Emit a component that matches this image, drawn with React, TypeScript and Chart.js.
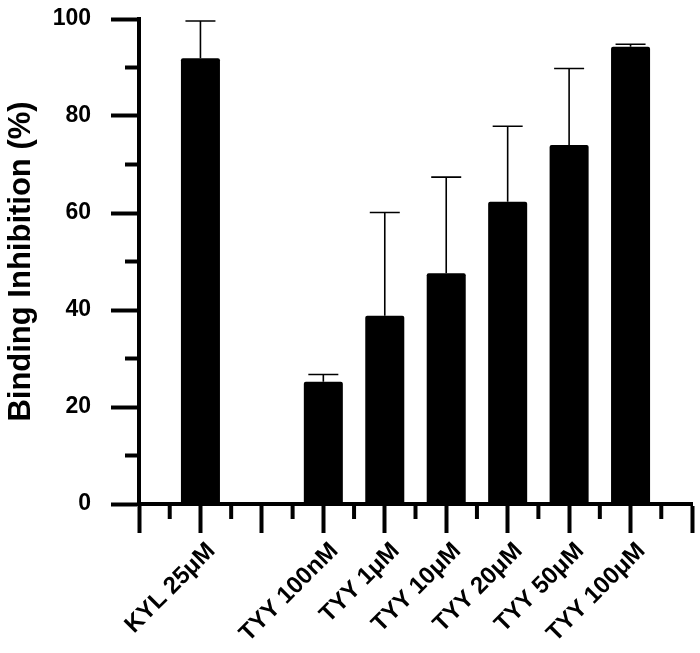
import React, { useEffect, useRef } from "react";
import { Chart, registerables } from "chart.js";

Chart.register(...registerables);

const categories = ["", "KYL 25μM", "", "TYY 100nM", "TYY 1μM", "TYY 10μM", "TYY 20μM", "TYY 50μM", "TYY 100μM", ""];
const meanValues = [null, 91.9, null, 25.2, 38.8, 47.6, 62.3, 74.0, 94.3, null];
const errorValues = [null, 7.7, null, 1.5, 21.3, 19.8, 15.6, 15.8, 0.5, null];
const yMinorTicks = [10, 30, 50, 70, 90];
const xMinorTicks = [0.5, 1.5, 2.5, 3.5, 4.5, 5.5, 6.5, 7.5, 8.5];

const FONT = "'Liberation Sans', Arial, sans-serif";

const errorBarPlugin = {
  id: "errorBars",
  afterDatasetsDraw(chart: any) {
    const ctx = chart.ctx;
    const meta = chart.getDatasetMeta(0);
    const y = chart.scales.y;
    ctx.save();
    ctx.strokeStyle = "#000";
    ctx.lineWidth = 1.6;
    meta.data.forEach((bar: any, i: number) => {
      const m = meanValues[i];
      const e = errorValues[i];
      if (m == null || e == null) return;
      const x = bar.x;
      const yTop = y.getPixelForValue(m + e);
      const yBase = y.getPixelForValue(m);
      ctx.beginPath();
      ctx.moveTo(x, yBase);
      ctx.lineTo(x, yTop);
      ctx.moveTo(x - 15, yTop);
      ctx.lineTo(x + 15, yTop);
      ctx.stroke();
    });
    ctx.restore();
  },
};

const minorTickPlugin = {
  id: "minorTicks",
  afterDraw(chart: any) {
    const ctx = chart.ctx;
    const { left, bottom } = chart.chartArea;
    const xs = chart.scales.x;
    const ys = chart.scales.y;
    ctx.save();
    ctx.strokeStyle = "#000";
    ctx.lineWidth = 4;
    ctx.lineCap = "butt";
    yMinorTicks.forEach((v) => {
      const py = ys.getPixelForValue(v);
      ctx.beginPath();
      ctx.moveTo(left - 14, py);
      ctx.lineTo(left, py);
      ctx.stroke();
    });
    xMinorTicks.forEach((v) => {
      const px = xs.getPixelForValue(v);
      ctx.beginPath();
      ctx.moveTo(px, bottom);
      ctx.lineTo(px, bottom + 15);
      ctx.stroke();
    });
    ctx.restore();
  },
};

export default function App() {
  const canvasRef = useRef<HTMLCanvasElement | null>(null);

  useEffect(() => {
    document.body.style.margin = "0";
    const canvas = canvasRef.current;
    if (!canvas) return;
    const chart = new Chart(canvas, {
      type: "bar",
      data: {
        labels: categories,
        datasets: [
          {
            data: meanValues as any,
            backgroundColor: "#000",
            borderColor: "#000",
            borderWidth: 0,
            borderRadius: 2,
            borderSkipped: "bottom",
            categoryPercentage: 1,
            barPercentage: 0.635,
          },
        ],
      },
      options: {
        animation: false,
        responsive: false,
        maintainAspectRatio: false,
        layout: { padding: { top: 19, right: 8, left: 0, bottom: 0 } },
        plugins: {
          legend: { display: false },
          tooltip: { enabled: false },
        },
        scales: {
          x: {
            type: "category",
            offset: false,
            grid: {
              display: true,
              offset: false,
              drawOnChartArea: false,
              drawTicks: true,
              tickLength: 29,
              tickWidth: 4,
              tickColor: "#000",
            },
            border: { display: true, width: 4, color: "#000" },
            ticks: {
              autoSkip: false,
              maxRotation: 45,
              minRotation: 45,
              padding: 4,
              labelOffset: 11,
              color: "#000",
              font: { family: FONT, size: 24, weight: "bold" },
            },
            afterFit(scale: any) {
              scale.height = 149;
              scale.paddingLeft = 0;
              scale.paddingRight = 0;
            },
          },
          y: {
            min: 0,
            max: 100,
            grid: {
              display: true,
              drawOnChartArea: false,
              drawTicks: true,
              tickLength: 28,
              tickWidth: 4,
              tickColor: "#000",
            },
            border: { display: true, width: 4, color: "#000" },
            ticks: {
              stepSize: 20,
              padding: 20,
              color: "#000",
              font: { family: FONT, size: 23, weight: "bold" },
            },
            title: {
              display: true,
              text: "Binding Inhibition (%)",
              color: "#000",
              font: { family: FONT, size: 31, weight: "bold" },
              padding: { top: 3, bottom: 0 },
            },
            afterFit(scale: any) {
              scale.width = 139;
              scale.paddingTop = 0;
              scale.paddingBottom = 0;
            },
          },
        },
      },
      plugins: [errorBarPlugin, minorTickPlugin],
    });
    return () => chart.destroy();
  }, []);

  return (
    <div style={{ width: 700, height: 653, background: "#fff" }}>
      <canvas ref={canvasRef} width={700} height={653} style={{ display: "block", width: 700, height: 653 }} />
    </div>
  );
}
